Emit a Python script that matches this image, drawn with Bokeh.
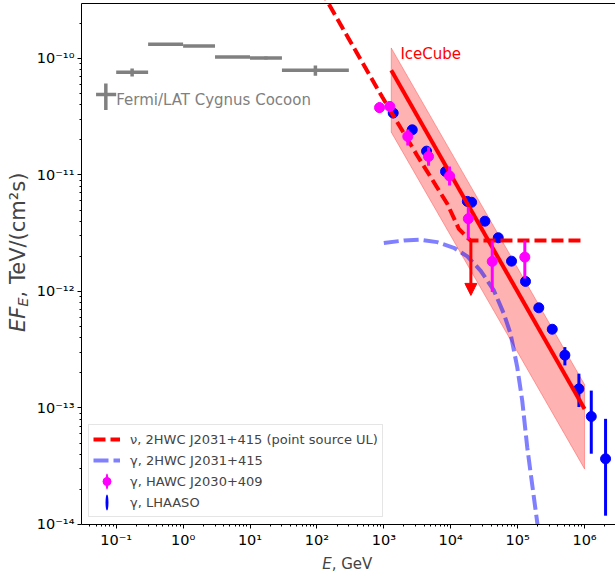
import numpy as np
from bokeh.plotting import figure
from bokeh.models import (ColumnDataSource, FixedTicker, CustomJSTickFormatter, Legend,
                          LegendItem, Label, Arrow, NormalHead, Range1d, LogAxis, LogScale)
from bokeh.embed import file_html
from bokeh.resources import INLINE

FONT = "DejaVu Sans"

# ---------------- data (E in GeV, E*F_E in TeV/(cm^2 s)) ----------------
# Fermi/LAT Cygnus Cocoon
fermi_e_lo = [0.1, 0.3, 1.0, 3.0, 10.0, 30.0]
fermi_e_hi = [0.3, 1.0, 3.0, 10.0, 30.0, 300.0]
fermi_e_c = [0.173, 0.548, 1.73, 5.48, 17.3, 94.9]
fermi_flux = [7.6e-11, 1.32e-10, 1.28e-10, 1.03e-10, 1.01e-10, 7.9e-11]
fermi_err = [0.6e-11, 0.1e-11, 0.1e-11, 0.2e-11, 0.3e-11, 0.8e-11]

# Fermi key marker next to its text label
fermi_key_e = [0.07]
fermi_key_e_lo = [0.05]
fermi_key_e_hi = [0.1]
fermi_key_f = [4.9e-11]
fermi_key_f_lo = [3.6e-11]
fermi_key_f_hi = [6.1e-11]
fermi_text_e = 0.1
fermi_text_f = 4.43e-11

# IceCube band and best fit
ice_e = [1.29e3, 1.0e6]
ice_upper = [1.23e-10, 1.59e-13]
ice_lower = [2.33e-11, 3.0e-14]
ice_best = [7.9e-11, 9.8e-14]
ice_text_e = 1.77e3
ice_text_f = 1.10e-10

# nu, 2HWC J2031+415 point-source upper limit
ul_e = [113.0, 947.0, 3.15e3, 8.87e3, 1.32e4, 1.77e4, 1.98e4, 1.0e6]
ul_f = [3.9e-10, 4.66e-11, 1.47e-11, 5.66e-12, 3.45e-12, 2.89e-12, 2.74e-12, 2.74e-12]
ul_arrow_e = 2.0e4
ul_arrow_f0 = 2.74e-12
ul_arrow_f1 = 9.25e-13

# gamma, 2HWC J2031+415 spectrum
g2_e = [1.0e3, 1.99e3, 3.54e3, 6.29e3, 1.11e4, 1.77e4, 2.79e4, 4.41e4, 6.22e4,
        7.83e4, 9.86e4, 1.17e5, 1.39e5, 1.98e5]
g2_f = [2.60e-12, 2.74e-12, 2.78e-12, 2.65e-12, 2.37e-12, 2.00e-12, 1.51e-12, 1.02e-12,
        6.44e-13, 4.34e-13, 2.24e-13, 1.16e-13, 4.61e-14, 1.0e-14]

# gamma, HAWC J2030+409
hawc_e = [862.0, 1.23e3, 2.28e3, 4.66e3, 9.6e3, 1.83e4, 4.17e4, 1.28e5]
hawc_f = [3.78e-11, 3.87e-11, 2.14e-11, 1.44e-11, 9.8e-12, 4.21e-12, 1.81e-12, 1.97e-12]
hawc_lo = [3.4e-11, 3.5e-11, 1.79e-11, 1.2e-11, 8.1e-12, 2.8e-12, 9.9e-13, 1.29e-12]
hawc_hi = [4.2e-11, 4.3e-11, 2.45e-11, 1.73e-11, 1.18e-11, 5.3e-12, 2.74e-12, 2.74e-12]

# gamma, LHAASO
lh_e = [1.38e3, 2.66e3, 4.35e3, 8.36e3, 1.77e4, 2.05e4, 3.24e4, 5.13e4, 8.1e4, 1.31e5,
        2.07e5, 3.29e5, 5.08e5, 8.23e5, 1.26e6, 2.06e6]
lh_f = [3.40e-11, 2.44e-11, 1.60e-11, 1.07e-11, 5.93e-12, 5.83e-12, 4.01e-12, 2.89e-12,
        1.82e-12, 1.22e-12, 7.24e-13, 4.74e-13, 2.84e-13, 1.46e-13, 8.45e-14, 3.66e-14]
lh_lo = [3.3e-11, 2.37e-11, 1.55e-11, 1.04e-11, 5.75e-12, 5.65e-12, 3.88e-12, 2.78e-12,
         1.74e-12, 1.16e-12, 6.85e-13, 4.4e-13, 2.32e-13, 1.02e-13, 4.05e-14, 1.19e-14]
lh_hi = [3.5e-11, 2.51e-11, 1.65e-11, 1.10e-11, 6.1e-12, 6.0e-12, 4.14e-12, 3.0e-12,
         1.9e-12, 1.28e-12, 7.6e-13, 5.1e-13, 3.33e-13, 1.97e-13, 1.41e-13, 8.07e-14]

# axes extents (the drawn axes) and the full-canvas ranges
x_lo, x_hi = 0.0303, 2.9e6
y_lo, y_hi = 1e-14, 2.96e-10
x_major = [10.0 ** k for k in range(-1, 7)]
y_major = [10.0 ** k for k in range(-14, -9)]
x_minor = [m * 10.0 ** k for k in range(-2, 7) for m in range(2, 10)
           if x_lo <= m * 10.0 ** k <= x_hi]
y_minor = [m * 10.0 ** k for k in range(-14, -9) for m in range(2, 10)
           if y_lo <= m * 10.0 ** k <= y_hi]

# ---------------- figure ----------------
# The frame fills the whole canvas; the axes are pinned at the data edges so the
# axis titles (styled text pieces) can sit in the margin area.
p = figure(width=615, height=571, x_axis_type=None, y_axis_type=None,
           x_range=Range1d(1.866e-3, x_hi), y_range=Range1d(3.95e-15, 3.141e-10),
           output_backend="svg", toolbar_location=None,
           min_border_left=0, min_border_right=0, min_border_top=0, min_border_bottom=0)
p.x_scale = LogScale()
p.y_scale = LogScale()
p.outline_line_color = None
p.background_fill_color = "white"
p.border_fill_color = "white"

fmt = CustomJSTickFormatter(code=r"""
const sup = {"-": "\u207b", "0": "\u2070", "1": "\u00b9", "2": "\u00b2", "3": "\u00b3",
             "4": "\u2074", "5": "\u2075", "6": "\u2076", "7": "\u2077", "8": "\u2078", "9": "\u2079"};
const e = Math.round(Math.log10(tick));
let s = "";
for (const c of String(e)) { s += sup[c]; }
return "10" + s;
""")

xaxis = LogAxis(fixed_location=y_lo, bounds=(x_lo, x_hi),
                ticker=FixedTicker(ticks=x_major, minor_ticks=x_minor))
yaxis = LogAxis(fixed_location=x_lo, bounds=(y_lo, y_hi),
                ticker=FixedTicker(ticks=y_major, minor_ticks=y_minor))
for ax in (xaxis, yaxis):
    ax.formatter = fmt
    ax.major_label_text_font = FONT
    ax.major_label_text_font_size = "14.5px"
    ax.major_label_text_color = "black"
    ax.axis_line_color = "black"
    ax.major_tick_line_color = "black"
    ax.minor_tick_line_color = "black"
    ax.major_tick_in = 0
    ax.major_tick_out = 4
    ax.minor_tick_in = 0
    ax.minor_tick_out = 2
xaxis.major_label_standoff = 4
yaxis.major_label_standoff = 3
p.add_layout(xaxis, "below")
p.add_layout(yaxis, "left")

# top spine: an axis without ticks or labels
top_axis = LogAxis(fixed_location=y_hi, bounds=(x_lo, x_hi), ticker=FixedTicker(ticks=[]),
                   axis_line_color="black", major_tick_line_color=None,
                   minor_tick_line_color=None, major_label_text_alpha=0)
p.add_layout(top_axis, "above")

# IceCube band
band_x = ice_e + ice_e[::-1]
band_y = ice_upper + ice_lower[::-1]
p.patch(band_x, band_y, fill_color="red", fill_alpha=0.3, line_color="red", line_alpha=0.3,
        line_width=1)

# gamma 2HWC dashed
r_g2 = p.line(g2_e, g2_f, line_color="blue", line_alpha=0.5, line_width=4, line_dash="15 5")

# LHAASO
p.segment(x0=lh_e, y0=lh_lo, x1=lh_e, y1=lh_hi, line_color="blue", line_width=3)
p.scatter(lh_e, lh_f, marker="circle", size=10, fill_color="blue", line_color="blue")

# IceCube best fit
p.line(ice_e, ice_best, line_color="red", line_width=4)

# UL dashed + arrow
r_ul = p.line(ul_e, ul_f, line_color="red", line_width=4, line_dash="12 5")
p.add_layout(Arrow(end=NormalHead(size=12, fill_color="red", line_color="red", line_width=1),
                   x_start=ul_arrow_e, y_start=ul_arrow_f0, x_end=ul_arrow_e, y_end=ul_arrow_f1,
                   line_color="red", line_width=3))

# HAWC
p.segment(x0=hawc_e, y0=hawc_lo, x1=hawc_e, y1=hawc_hi, line_color="magenta", line_width=3)
p.scatter(hawc_e, hawc_f, marker="circle", size=10, fill_color="magenta", line_color="magenta")

# Fermi
p.segment(x0=fermi_e_lo, y0=fermi_flux, x1=fermi_e_hi, y1=fermi_flux, line_color="gray",
          line_width=3.5)
p.segment(x0=fermi_e_c, y0=[f - e for f, e in zip(fermi_flux, fermi_err)],
          x1=fermi_e_c, y1=[f + e for f, e in zip(fermi_flux, fermi_err)],
          line_color="gray", line_width=3.5)
p.segment(x0=fermi_key_e_lo, y0=fermi_key_f, x1=fermi_key_e_hi, y1=fermi_key_f,
          line_color="gray", line_width=3.5)
p.segment(x0=fermi_key_e, y0=fermi_key_f_lo, x1=fermi_key_e, y1=fermi_key_f_hi,
          line_color="gray", line_width=3.5)

p.add_layout(Label(x=fermi_text_e, y=fermi_text_f, text="Fermi/LAT Cygnus Cocoon",
                   text_font=FONT, text_font_size="15px", text_color="gray",
                   text_baseline="middle", text_align="left"))
p.add_layout(Label(x=ice_text_e, y=ice_text_f, text="IceCube",
                   text_font=FONT, text_font_size="15px", text_color="red",
                   text_baseline="middle", text_align="left"))

# legend key renderers (NaN position, so only the legend shows them)
key_src = ColumnDataSource(dict(x=[np.nan], y=[np.nan]))
r_hawc_bar = p.ellipse("x", "y", source=key_src, width=2.4, height=13, width_units="screen",
                       height_units="screen", fill_color="magenta", line_color=None)
r_hawc_dot = p.scatter("x", "y", source=key_src, marker="circle", size=10,
                       fill_color="magenta", line_color="magenta")
r_lh_bar = p.ellipse("x", "y", source=key_src, width=2.4, height=13, width_units="screen",
                     height_units="screen", fill_color="blue", line_color=None)

legend = Legend(items=[
    LegendItem(label="ν, 2HWC J2031+415 (point source UL)", renderers=[r_ul]),
    LegendItem(label="γ, 2HWC J2031+415", renderers=[r_g2]),
    LegendItem(label="γ, HAWC J2030+409", renderers=[r_hawc_bar, r_hawc_dot]),
    LegendItem(label="γ, LHAASO", renderers=[r_lh_bar]),
], location=(88, 54), padding=4, spacing=1, glyph_width=27, glyph_height=20,
    label_height=20, label_standoff=10, label_text_font=FONT, label_text_font_size="13px",
    border_line_color="#cccccc", border_line_width=1, background_fill_alpha=0.8)
p.add_layout(legend)

# axis titles as styled text pieces (screen px from the canvas bottom-left)
p.add_layout(Label(x=321.7, y=8, x_units="screen", y_units="screen", text="E",
                   text_font=FONT, text_font_size="15px", text_font_style="italic",
                   text_baseline="alphabetic", text_align="left"))
p.add_layout(Label(x=331.2, y=8, x_units="screen", y_units="screen", text=", GeV",
                   text_font=FONT, text_font_size="15px",
                   text_baseline="alphabetic", text_align="left"))

p.add_layout(Label(x=17, y=239.5, x_units="screen", y_units="screen", text="EF",
                   angle=np.pi / 2, text_font=FONT, text_font_size="21px",
                   text_font_style="italic", text_baseline="middle", text_align="left"))
p.add_layout(Label(x=22, y=264.8, x_units="screen", y_units="screen", text="E",
                   angle=np.pi / 2, text_font=FONT, text_font_size="14.5px",
                   text_font_style="italic", text_baseline="middle", text_align="left"))
p.add_layout(Label(x=17, y=274.1, x_units="screen", y_units="screen", text=", TeV/(cm²s)",
                   angle=np.pi / 2, text_font=FONT, text_font_size="21px",
                   text_baseline="middle", text_align="left"))

open("out.html", "w", encoding="utf-8").write(file_html(p, INLINE))
